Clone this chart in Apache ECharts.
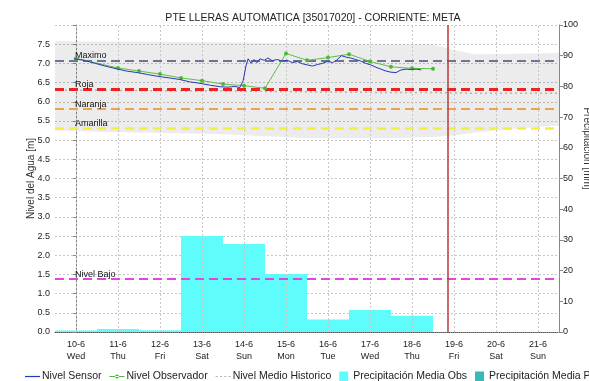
<!DOCTYPE html>
<html>
<head>
<meta charset="utf-8">
<script src="https://cdn.jsdelivr.net/npm/echarts@6/dist/echarts.min.js"></script>
<style>
  html, body { margin: 0; padding: 0; background: #ffffff; }
  #chart { width: 589px; height: 381px; }
</style>
</head>
<body>
<div id="chart"></div>
<script>
// Day offsets are counted from 10-6 00:00; the view spans 9-6 12:00 .. 21-6 12:00.
const dayTicks = [0, 1, 2, 3, 4, 5, 6, 7, 8, 9, 10, 11];
const dayLabels = ['10-6', '11-6', '12-6', '13-6', '14-6', '15-6', '16-6', '17-6', '18-6', '19-6', '20-6', '21-6'];
const weekdayLabels = ['Wed', 'Thu', 'Fri', 'Sat', 'Sun', 'Mon', 'Tue', 'Wed', 'Thu', 'Fri', 'Sat', 'Sun'];

// Automatic sensor level [m]
const sensorDays = [-0.05, 0.19, 0.46, 0.69, 0.96, 1.2, 1.46, 1.7, 1.96, 2.23, 2.47, 2.7, 2.95, 3.2, 3.45, 3.62, 3.78, 3.9,
  3.98, 4.05, 4.1, 4.17, 4.24, 4.31, 4.38, 4.48, 4.57, 4.67, 4.79, 4.91, 5.03, 5.15, 5.27, 5.39, 5.51, 5.63, 5.75, 5.87,
  5.99, 6.11, 6.2, 6.32, 6.44, 6.54, 6.66, 6.78, 6.9, 7.02, 7.14, 7.26, 7.38, 7.5, 7.62, 7.74, 7.86, 7.98, 8.1, 8.22];
const sensorLevel = [7.12, 7.08, 7.0, 6.93, 6.86, 6.8, 6.76, 6.71, 6.66, 6.62, 6.58, 6.52, 6.48, 6.43, 6.39, 6.38, 6.4, 6.37,
  6.55, 6.95, 7.12, 7.0, 7.1, 7.02, 7.12, 7.08, 7.14, 7.07, 7.1, 7.06, 7.08, 7.02, 7.05, 6.99, 6.96, 6.93, 6.97, 7.0,
  7.05, 7.02, 7.08, 7.2, 7.16, 7.14, 7.1, 7.06, 7.0, 6.96, 6.9, 6.85, 6.8, 6.77, 6.76, 6.83, 6.85, 6.84, 6.85, 6.83];

// Observer readings [m]
const observerDays = [0, 1, 1.5, 2, 2.5, 3, 3.5, 4, 4.5, 5, 5.5, 6, 6.5, 7, 7.5, 8, 8.5];
const observerLevel = [7.13, 6.88, 6.8, 6.72, 6.62, 6.55, 6.46, 6.42, 6.35, 7.26, 7.08, 7.15, 7.24, 7.05, 6.91, 6.87, 6.86];

// Historical envelope and historical mean level [m]
const histDays = [-0.5, 0.5, 1.5, 2.5, 3.5, 4.5, 5.5, 6.5, 7.5, 8.5, 9.0, 9.5, 10.5, 11.5];
const histUpper = [7.58, 7.57, 7.57, 7.56, 7.55, 7.53, 7.52, 7.5, 7.5, 7.5, 7.35, 7.24, 7.25, 7.27];
const histLower = [5.25, 5.22, 5.2, 5.18, 5.15, 5.1, 5.05, 5.05, 5.05, 5.08, 5.12, 5.2, 5.3, 5.38];
const histMean = [6.3, 6.3, 6.29, 6.28, 6.28, 6.27, 6.26, 6.25, 6.24, 6.24, 6.23, 6.22, 6.22, 6.22];

// Daily mean observed precipitation [mm], one bar per day
const precipDays = [0, 1, 2, 3, 4, 5, 6, 7, 8];
const precipObs = [0.5, 1.0, 0.6, 31.3, 28.7, 18.9, 4.1, 7.2, 5.3];

// Alert thresholds [m]
const thresholdNames = ['Maximo', 'Roja', 'Naranja', 'Amarilla', 'Nivel Bajo'];
const thresholdLevels = [7.08, 6.32, 5.81, 5.32, 1.38];

// Current time marker
const nowDay = 8.86;

const thresholdColors = ['#6b7596', '#ee2222', '#f2a04a', '#f4ef3c', '#e444e4'];
const thresholdWidths = [2, 3, 2, 2.5, 2];
const FONT = 'Liberation Sans, Arial, sans-serif';

const zip = (xs, ys) => xs.map((x, i) => [x, ys[i]]);

// legend glyphs: plain line, line with dot, dotted line, filled box
const ICON_LINE = 'path://M0,4.4H15V5.6H0Z';
const ICON_LINE_DOT = 'path://M0,4.5H15V5.5H0Z M5.5,5a2,2 0 1,0 4,0a2,2 0 1,0 -4,0Z';
const ICON_DOTTED = 'path://M0,4.4H2V5.6H0Z M4.3,4.4H6.3V5.6H4.3Z M8.6,4.4H10.6V5.6H8.6Z M12.9,4.4H14.9V5.6H12.9Z';
const ICON_BOX = 'path://M0,0H9V10H0Z';

const chart = echarts.init(document.getElementById('chart'), null, { renderer: 'canvas' });

const option = {
  animation: false,
  backgroundColor: '#ffffff',
  textStyle: { fontFamily: FONT },
  title: {
    text: 'PTE LLERAS AUTOMATICA [35017020] - CORRIENTE: META',
    left: 308,
    top: 8,
    textAlign: 'center',
    textStyle: { fontSize: 10.5, fontWeight: 'normal', color: '#222', fontFamily: FONT }
  },
  legend: {
    left: 20,
    top: 366,
    width: 1400,
    itemWidth: 15,
    itemHeight: 10,
    itemGap: 8,
    symbolKeepAspect: true,
    textStyle: { fontSize: 10.5, color: '#222', fontFamily: FONT, padding: [0, 0, 0, -3] },
    data: [
      { name: 'Nivel Sensor', icon: ICON_LINE },
      { name: 'Nivel Observador', icon: ICON_LINE_DOT },
      { name: 'Nivel Medio Historico', icon: ICON_DOTTED },
      { name: 'Precipitación Media Obs', icon: ICON_BOX },
      { name: 'Precipitación Media Pronóstico', icon: ICON_BOX }
    ]
  },
  grid: { left: 55, right: 30, top: 25, bottom: 49, outerBoundsMode: 'none', containLabel: false },
  xAxis: {
    type: 'value',
    min: -0.5,
    max: 11.5,
    axisLine: { show: true, lineStyle: { color: '#555', type: [1, 1] } },
    axisTick: { show: false, customValues: dayTicks },
    axisLabel: {
      customValues: dayTicks,
      fontSize: 9,
      color: '#222',
      lineHeight: 12,
      margin: 7,
      formatter: (v) => {
        const i = dayTicks.indexOf(Math.round(v));
        return i < 0 ? '' : dayLabels[i] + '\n' + weekdayLabels[i];
      }
    },
    splitLine: { show: false }
  },
  yAxis: [
    {
      type: 'value',
      min: 0,
      max: 8,
      interval: 0.5,
      name: 'Nivel del Agua [m]',
      nameLocation: 'middle',
      nameGap: 19,
      nameMoveOverlap: false,
      nameTextStyle: { fontSize: 10, color: '#333', fontFamily: FONT },
      axisLine: { show: true, lineStyle: { color: '#888' } },
      axisTick: { show: true, length: 3, lineStyle: { color: '#888' } },
      axisLabel: {
        fontSize: 9, color: '#222', margin: 5,
        formatter: (v) => (v >= 8 ? '' : v.toFixed(1))
      },
      splitLine: { show: true, lineStyle: { color: '#c8c8c8', type: [2, 2] } }
    },
    {
      type: 'value',
      min: 0,
      max: 100,
      interval: 10,
      position: 'right',
      name: 'Precipitación [mm]',
      nameLocation: 'middle',
      nameRotate: -90,
      nameGap: 23,
      nameMoveOverlap: false,
      nameTextStyle: { fontSize: 10, color: '#333', fontFamily: FONT, padding: [0, 60, 0, 0] },
      axisLine: { show: true, lineStyle: { color: '#888' } },
      axisTick: { show: true, length: 4, lineStyle: { color: '#888' } },
      axisLabel: { fontSize: 9, color: '#222', margin: 4 },
      splitLine: { show: false }
    }
  ],
  series: [
    // historical envelope drawn as one polygon between upper and lower curves
    {
      name: 'hist-band',
      type: 'custom',
      data: zip(histDays, histUpper),
      encode: { x: 0, y: 1 },
      silent: true,
      z: 1,
      renderItem: (params, api) => {
        if (params.dataIndex !== 0) return null;
        const upper = histDays.map((d, i) => api.coord([d, histUpper[i]]));
        const lower = histDays.map((d, i) => api.coord([d, histLower[i]])).reverse();
        return {
          type: 'polygon',
          shape: { points: upper.concat(lower) },
          style: { fill: 'rgba(0,0,0,0.075)' }
        };
      }
    },
    // observed precipitation bars on the right axis
    {
      name: 'Precipitación Media Obs',
      type: 'custom',
      yAxisIndex: 1,
      itemStyle: { color: '#5ffcfc' },
      encode: { x: 0, y: 1 },
      data: zip(precipDays, precipObs),
      z: 2,
      renderItem: (params, api) => {
        const d = api.value(0);
        const v = api.value(1);
        const p0 = api.coord([d - 0.5, v]);
        const p1 = api.coord([d + 0.5, 0]);
        const cs = params.coordSys;
        const shape = echarts.graphic.clipRectByRect(
          { x: p0[0], y: p0[1], width: p1[0] - p0[0], height: p1[1] - p0[1] },
          { x: cs.x, y: cs.y, width: cs.width, height: cs.height }
        );
        return shape && { type: 'rect', shape: shape, style: { fill: api.visual('color') } };
      }
    },
    {
      name: 'Precipitación Media Pronóstico',
      type: 'custom',
      yAxisIndex: 1,
      itemStyle: { color: '#3ab8b8' },
      data: [],
      renderItem: () => null
    },
    // vertical day grid lines
    {
      name: 'day-grid',
      type: 'line',
      data: [],
      silent: true,
      z: 3,
      markLine: {
        silent: true,
        symbol: 'none',
        label: { show: false },
        lineStyle: { color: '#c8c8c8', type: [2, 2], width: 1 },
        data: dayTicks.map((d) => ({ xAxis: d }))
      }
    },
    // historical mean with the alert thresholds
    {
      name: 'Nivel Medio Historico',
      type: 'line',
      data: zip(histDays, histMean),
      symbol: 'none',
      itemStyle: { color: '#b4b4b4' },
      lineStyle: { color: '#b4b4b4', width: 1.5, type: [2, 3] },
      z: 4,
      markLine: {
        silent: true,
        symbol: 'none',
        data: thresholdNames.map((name, i) => ({
          yAxis: thresholdLevels[i],
          lineStyle: { color: thresholdColors[i], width: thresholdWidths[i], type: [9, 5] },
          label: {
            show: true,
            formatter: name,
            position: 'insideStartTop',
            distance: [20, 0],
            fontSize: 9,
            color: '#111',
            fontFamily: FONT
          }
        }))
      }
    },
    {
      name: 'Nivel Observador',
      type: 'line',
      data: zip(observerDays, observerLevel),
      symbol: 'circle',
      symbolSize: 4,
      itemStyle: { color: '#4cb83a' },
      lineStyle: { color: '#5cc046', width: 1 },
      z: 5
    },
    {
      name: 'Nivel Sensor',
      type: 'line',
      data: zip(sensorDays, sensorLevel),
      symbol: 'none',
      itemStyle: { color: '#2a35b8' },
      lineStyle: { color: '#2a35b8', width: 1 },
      z: 6
    },
    // current time
    {
      name: 'now',
      type: 'line',
      data: [],
      silent: true,
      z: 7,
      markLine: {
        silent: true,
        symbol: 'none',
        label: { show: false },
        lineStyle: { color: '#bb3a3a', width: 1.5, type: 'solid' },
        data: [{ xAxis: nowDay }]
      }
    }
  ]
};

chart.setOption(option);
</script>
</body>
</html>
